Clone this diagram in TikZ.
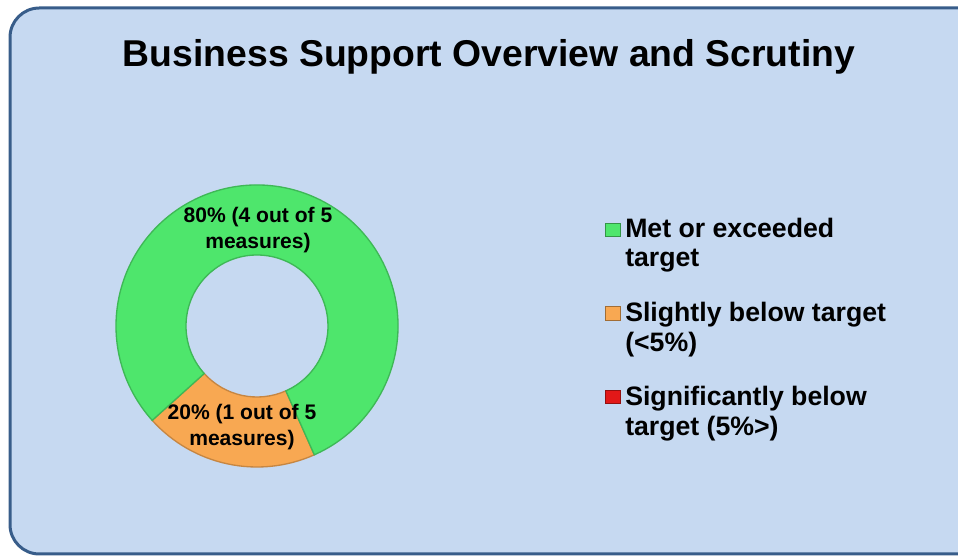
\documentclass[tikz,border=0pt]{standalone}
\usepackage{fontspec}
\setmainfont{Liberation Sans}
\usetikzlibrary{calc}
\usetikzlibrary{positioning}

\definecolor{panelbg}{RGB}{198,217,241}
\definecolor{panelline}{RGB}{56,93,138}
\definecolor{metgreen}{RGB}{78,230,108}
\definecolor{slightorange}{RGB}{248,168,82}
\definecolor{sigred}{RGB}{226,24,24}

\begin{document}
\begin{tikzpicture}[x=0.75pt,y=0.75pt,
    slice/.style={fill=#1, draw=#1!80!black, line width=1pt},
    lbl/.style={font=\bfseries\fontsize{15.8}{19}\selectfont, align=center, inner sep=0pt},
    legmark/.style={fill=#1, draw=#1!65!black, line width=0.5pt, minimum width=11pt, minimum height=10pt, inner sep=0pt},
    legtext/.style={font=\bfseries\fontsize{20}{22.2}\selectfont, align=left, inner sep=0pt, anchor=north west}]
    \useasboundingbox (0,0) rectangle (958,557);
    \clip (0,0) rectangle (958,557);

    % Panel
    \draw[fill=panelbg, draw=panelline, line width=2.25pt, rounded corners=22pt]
        (10,3) rectangle (990,549);

    % Title
    \node[font=\bfseries\fontsize{28}{33}\selectfont, anchor=base] (title) at (489,490)
        {Business Support Overview and Scrutiny};

    % Ring centre
    \coordinate (c) at (257,231);

    % Slices
    \draw[slice=slightorange] ($(c)+(222:141)$) arc[start angle=222, end angle=294, radius=141]
        -- ($(c)+(294:71)$) arc[start angle=294, end angle=222, radius=71] -- cycle;
    \draw[slice=metgreen] ($(c)+(294:141)$) arc[start angle=294, end angle=582, radius=141]
        -- ($(c)+(582:71)$) arc[start angle=582, end angle=294, radius=71] -- cycle;

    % Slice labels
    \node[lbl] (lblMet) at (258,327) {80\% (4 out of 5\\measures)};
    \node[lbl] (lblSlight) at (242,130) {20\% (1 out of 5\\measures)};

    % Legend
    \node[legmark=metgreen] (mkMet) at (612.5,327) {};
    \node[legmark=slightorange] (mkSlight) at (612.5,243.5) {};
    \node[legmark=sigred] (mkSig) at (612.5,160) {};

    \node[legtext] (txtMet) at (625,339.5) {Met or exceeded\\target};
    \node[legtext] (txtSlight) at (625,255) {Slightly below target\\(<5\%)};
    \node[legtext] (txtSig) at (625,171) {Significantly below\\target (5\%>)};
\end{tikzpicture}
\end{document}
